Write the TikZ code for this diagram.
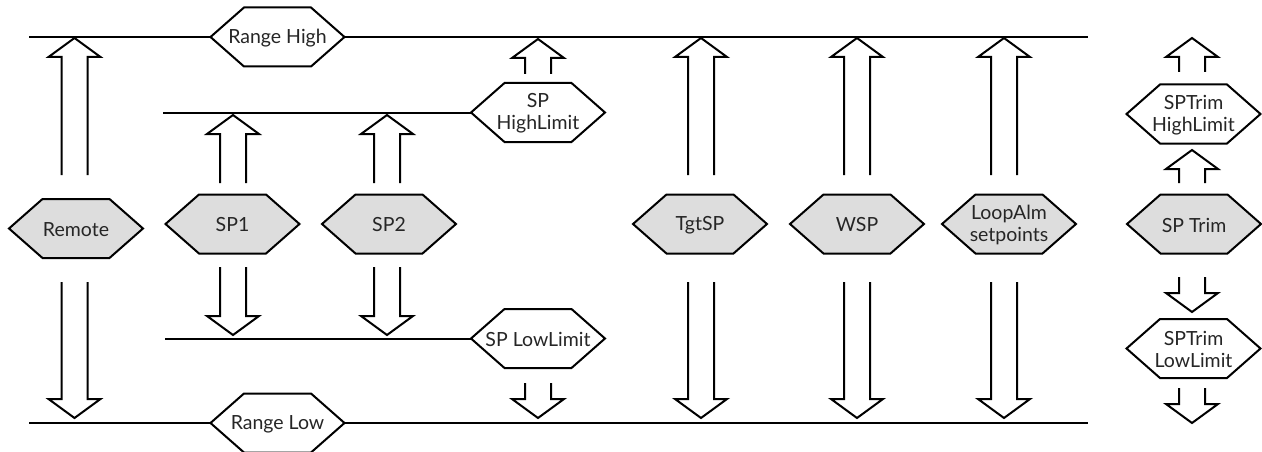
\documentclass[tikz,border=0pt]{standalone}
\usepackage{fontspec}
\setmainfont{Lato}
\begin{document}
\begin{tikzpicture}[x=1pt,y=-1pt,
  hexline/.style={draw=black,line width=2pt,line join=miter},
  hextext/.style={align=center,inner sep=0pt,text=black!85,font=\fontsize{19.5}{22}\selectfont},
  barline/.style={draw=black,line width=2pt},
  blockarrow/.style={draw=black,line width=2pt,line join=miter}]
\useasboundingbox (0,0) rectangle (1262,452);
\definecolor{hexgray}{HTML}{DDDDDD}
% hexagon: fill, name, x, y, text
\newcommand{\hexnode}[5]{%
  \begin{scope}[shift={(#3,#4)}]
    \path[hexline,fill=#1] (-67,0)--(-33.5,-29.5)--(33.5,-29.5)--(67,0)--(33.5,29.5)--(-33.5,29.5)--cycle;
    \node[hextext] (#2) at (0,1) {#5};
    \coordinate (#2-w) at (-67,0);
    \coordinate (#2-e) at (67,0);
  \end{scope}}
% block arrow: x, tail y, tip y (direction from sign)
\newcommand{\blockarr}[3]{%
  \pgfmathsetmacro{\dir}{(#3>#2)?1:-1}%
  \pgfmathsetmacro{\hb}{#3-19*\dir}%
  \draw[blockarrow] (#1-13,#2)--(#1-13,\hb)--(#1-26,\hb)--(#1,#3)--(#1+26,\hb)--(#1+13,\hb)--(#1+13,#2);}

% hexagons
\hexnode{white}{rh}{277.5}{37}{Range High}
\hexnode{white}{rl}{277.5}{423}{Range Low}
\hexnode{hexgray}{remote}{76}{228.5}{Remote}
\hexnode{hexgray}{sp1}{232.5}{224}{SP1}
\hexnode{hexgray}{sp2}{389}{224}{SP2}
\hexnode{white}{sphl}{538}{112.5}{SP\\HighLimit}
\hexnode{white}{spll}{538}{338.5}{SP LowLimit}
\hexnode{hexgray}{tgt}{700}{224}{TgtSP}
\hexnode{hexgray}{wsp}{857}{224}{WSP}
\hexnode{hexgray}{loop}{1009}{224}{LoopAlm\\setpoints}
\hexnode{hexgray}{trim}{1194}{224}{SP Trim}
\hexnode{white}{trimhl}{1193.5}{114}{SPTrim\\HighLimit}
\hexnode{white}{trimll}{1193.5}{348.5}{SPTrim\\LowLimit}

% limit lines
\coordinate (tl) at (29,37);
\coordinate (tr) at (1088,37);
\coordinate (bl) at (29,423);
\coordinate (br) at (1088,423);
\coordinate (hl) at (163,112.5);
\coordinate (ll) at (165,338.5);
\draw[barline] (tl) -- (rh-w);
\draw[barline] (rh-e) -- (tr);
\draw[barline] (bl) -- (rl-w);
\draw[barline] (rl-e) -- (br);
\draw[barline] (hl) -- (sphl-w);
\draw[barline] (ll) -- (spll-w);

% arrows
\blockarr{74.5}{175}{38}
\blockarr{74.5}{282}{418}
\blockarr{233}{183}{115}
\blockarr{233}{267}{335}
\blockarr{387}{183}{115}
\blockarr{387}{267}{335}
\blockarr{538}{74}{39}
\blockarr{538}{383}{418}
\blockarr{701}{175}{38}
\blockarr{701}{282}{418}
\blockarr{857}{175}{38}
\blockarr{857}{282}{418}
\blockarr{1004}{175}{38}
\blockarr{1004}{282}{418}
\blockarr{1192}{72}{38}
\blockarr{1192}{183}{150}
\blockarr{1192}{277}{312}
\blockarr{1192}{388}{423}
\end{tikzpicture}
\end{document}
